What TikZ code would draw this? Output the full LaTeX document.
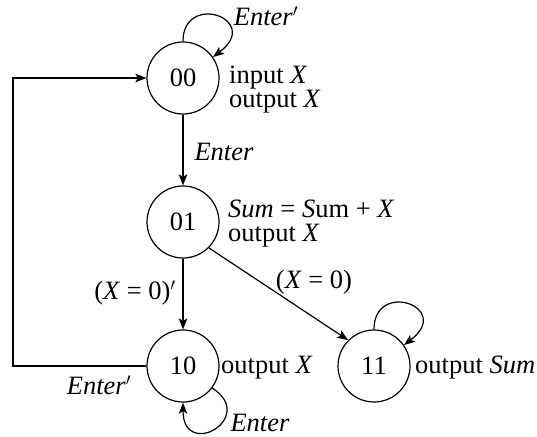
\documentclass[tikz,border=0pt]{standalone}
\usepackage{fontspec}
\setmainfont{Liberation Serif}
\usetikzlibrary{arrows.meta}
\begin{document}
\begin{tikzpicture}[x=1pt,y=-1pt,
  every node/.style={font=\fontsize{26.5}{22.5}\selectfont},
  state/.style={draw,circle,minimum size=72pt,inner sep=0pt,line width=1.2pt},
  lbl/.style={inner sep=0pt},
  conn/.style={line width=1.2pt,-{Stealth[length=11pt,width=8.5pt,inset=2.5pt]}}]
\useasboundingbox (0,0) rectangle (537,436);
\node[state] (s00) at (183,78) {00};
\node[state] (s01) at (183,222) {01};
\node[state] (s10) at (183,366) {10};
\node[state] (s11) at (374,366) {11};
% texts
\node[lbl,anchor=base west] (t00) at (229,83) {\begin{tabular}[t]{@{}l@{}}input \textit{X}\\ output \textit{X}\end{tabular}};
\node[lbl,anchor=base west] (t01) at (228,217) {\begin{tabular}[t]{@{}l@{}}\textit{Sum} = \textit{S}um + \textit{X}\\ output \textit{X}\end{tabular}};
\node[lbl,anchor=base west] (t10) at (221,373) {output \textit{X}};
\node[lbl,anchor=base west] (t11) at (415,373) {output \textit{Sum}};
% edge labels
\node[lbl] (l00) at (266,16) {\textit{Enter}$'$};
\node[lbl] (l0001) at (224,152) {\textit{Enter}};
\node[lbl] (l0110) at (135,293) {(\textit{X} = 0)$'$};
\node[lbl] (l0111) at (314,282) {(\textit{X} = 0)};
\node[lbl] (l1000) at (99,385) {\textit{Enter}$'$};
\node[lbl] (l10) at (260,423) {\textit{Enter}};
% connectors
\draw[conn] (s00) -- (s01);
\draw[conn] (s01) -- (s10);
\draw[conn] (s01.-45) -- (s11.135);
\coordinate (c1) at (13,366);
\coordinate (c2) at (13,78);
\draw[conn] (s10.west) -- (c1) -- (c2) -- (s00.west);
\draw[conn] (s00.90) .. controls +(0,-50) and +(50,-38) .. (s00.35);
\draw[conn] (s11.90) .. controls +(0,-50) and +(50,-38) .. (s11.35);
\draw[conn] (s10.-37) .. controls +(46,30) and +(0,58) .. (s10.270);
\end{tikzpicture}
\end{document}
